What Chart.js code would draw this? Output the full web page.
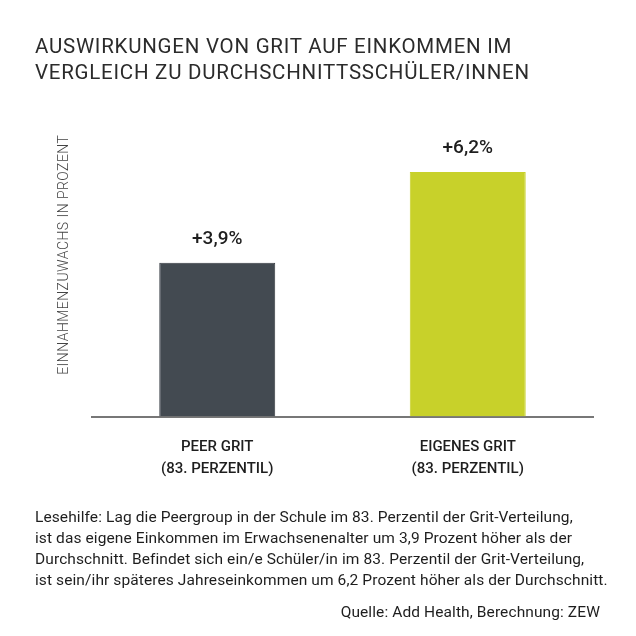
<!DOCTYPE html>
<html><head><meta charset="utf-8">
<script src="https://cdn.jsdelivr.net/npm/chart.js@4.4.0/dist/chart.umd.min.js"></script>
<style>
html,body{margin:0;padding:0;background:#fff;}
#wrap{position:relative;width:636px;height:636px;overflow:hidden;}
#c{position:absolute;left:0;top:0;}
.t{position:absolute;font-family:Roboto,"Open Sans",sans-serif;color:#2b2b2b;white-space:nowrap;}
#title{left:35px;top:33px;font-size:20.5px;line-height:26px;letter-spacing:0.75px;}
#note{left:35px;top:507px;font-size:15.5px;line-height:21px;color:#1e1e1e;letter-spacing:0.1px;}
#src{right:36px;top:603px;font-size:15.5px;color:#1e1e1e;letter-spacing:0.1px;}
</style></head>
<body><div id="wrap">
<canvas id="c" width="636" height="636"></canvas>
<div class="t" id="title">AUSWIRKUNGEN VON GRIT AUF EINKOMMEN IM<br>VERGLEICH ZU DURCHSCHNITTSSCHÜLER/INNEN</div>
<div class="t" id="note">Lesehilfe: Lag die Peergroup in der Schule im 83. Perzentil der Grit-Verteilung,<br>ist das eigene Einkommen im Erwachsenenalter um 3,9 Prozent höher als der<br>Durchschnitt. Befindet sich ein/e Schüler/in im 83. Perzentil der Grit-Verteilung,<br>ist sein/ihr späteres Jahreseinkommen um 6,2 Prozent höher als der Durchschnitt.</div>
<div class="t" id="src">Quelle: Add Health, Berechnung: ZEW</div>
</div>
<script>
const categories = [["PEER GRIT","(83. PERZENTIL)"],["EIGENES GRIT","(83. PERZENTIL)"]];
const values = [3.9, 6.2];
const valueLabels = ["+3,9%","+6,2%"];
const barColors = ["#434a51","#c8d12a"];
const yAxisTitle = "EINNAHMENZUWACHS IN PROZENT";

const labelPlugin = {
  id:'lbl',
  afterDatasetsDraw(chart){
    const ctx = chart.ctx;
    const meta = chart.getDatasetMeta(0);
    ctx.save();
    ctx.font = '500 19px Roboto, sans-serif';
    ctx.fillStyle = '#1e1e1e';
    ctx.textAlign = 'center';
    ctx.textBaseline = 'alphabetic';
    meta.data.forEach((b,i)=>{
      ctx.fillText(valueLabels[i], b.x, b.y - 19);
    });
    // y axis title
    const ca = chart.chartArea;
    ctx.translate(64, (ca.top + ca.bottom)/2);
    ctx.rotate(-Math.PI/2);
    ctx.font = '300 14px Roboto, sans-serif';
    ctx.letterSpacing = '0.45px';
    ctx.fillStyle = '#444';
    ctx.textBaseline = 'middle';
    ctx.fillText(yAxisTitle, 0, 0);
    ctx.restore();
  }
};

new Chart(document.getElementById('c'), {
  type:'bar',
  data:{labels:categories, datasets:[{data:values, backgroundColor:barColors,
    borderColor:["#343a40","#c8d12a"], borderWidth:1,
    categoryPercentage:1, barPercentage:0.463}]},
  options:{
    responsive:false, animation:false, devicePixelRatio:1,
    layout:{padding:{left:92, right:43, top:93, bottom:144}},
    plugins:{legend:{display:false}, tooltip:{enabled:false}, title:{display:false}},
    scales:{
      y:{display:false, min:0, max:8.2},
      x:{grid:{display:false}, border:{display:true, color:'#777', width:2},
        ticks:{padding:12, color:'#1e1e1e', font:{family:'Roboto', size:15, weight:'500', lineHeight:1.45}}}
    }
  },
  plugins:[labelPlugin]
});
</script>
</body></html>
